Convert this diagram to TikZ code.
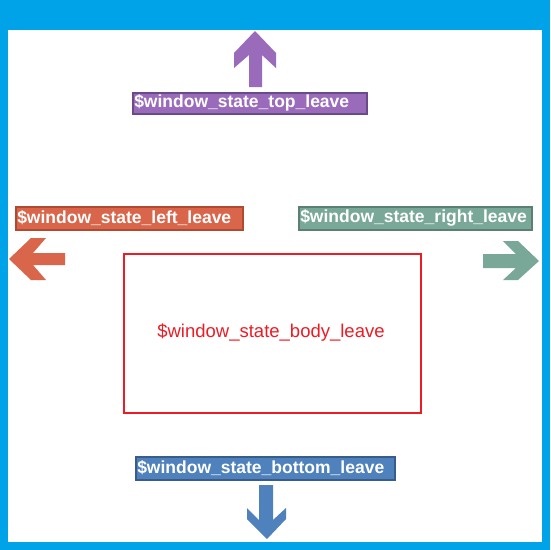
\documentclass[tikz,border=0pt]{standalone}
\usepackage{fontspec}
\setmainfont{Liberation Sans}
\definecolor{frameblue}{HTML}{00A2E8}
\definecolor{topfill}{HTML}{9B6BBB}
\definecolor{topdraw}{HTML}{6B4A8A}
\definecolor{leftfill}{HTML}{D9664A}
\definecolor{leftdraw}{HTML}{B04A30}
\definecolor{rightfill}{HTML}{79A898}
\definecolor{rightdraw}{HTML}{5B7F72}
\definecolor{botfill}{HTML}{4F81BD}
\definecolor{botdraw}{HTML}{385D8A}
\definecolor{bodyred}{HTML}{ED1C24}
\begin{document}
\begin{tikzpicture}[x=1pt,y=-1pt,
  lbl/.style={anchor=north west,draw,line width=1.5pt,inner sep=0pt,
    text=white,font=\fontsize{17.5}{18}\selectfont\bfseries,align=left},
  ]
\useasboundingbox (0,0) rectangle (550,550);
% frame
\fill[frameblue] (0,0) rectangle (550,550);
\fill[white] (8,30) rectangle (542,542);
% body
\node[draw=bodyred,line width=1.5pt,minimum width=297pt,minimum height=159pt,
  anchor=north west,inner sep=0pt] (body) at (123,253) {};
\node[text=bodyred,font=\fontsize{18.5}{19}\selectfont] (bodytxt) at (271,333) {\$window\_state\_body\_leave};
% labels
\node[lbl,fill=topfill,draw=topdraw,minimum width=234pt,minimum height=21pt,text width=231pt] (top) at (132,92) {\$window\_state\_top\_leave};
\node[lbl,fill=leftfill,draw=leftdraw,minimum width=227pt,minimum height=23pt,text width=224pt] (left) at (15,206) {\$window\_state\_left\_leave};
\node[lbl,fill=rightfill,draw=rightdraw,minimum width=233pt,minimum height=23pt,text width=230pt] (right) at (298,206) {\$window\_state\_right\_leave};
\node[lbl,fill=botfill,draw=botdraw,minimum width=259pt,minimum height=23pt,text width=256pt] (bottom) at (135,456) {\$window\_state\_bottom\_leave};
% arrows
\fill[topfill] (255,31) -- (276,53) -- (276,68) -- (262,55) -- (262,87) -- (249,87) -- (249,55) -- (234,68) -- (234,53) -- cycle;
\fill[leftfill] (9,259) -- (31,238) -- (46,238) -- (33,253) -- (65,253) -- (65,265) -- (33,265) -- (46,280) -- (31,280) -- cycle;
\fill[rightfill] (539,261) -- (518,241) -- (503,241) -- (516,254) -- (483,254) -- (483,268) -- (516,268) -- (503,280) -- (518,280) -- cycle;
\fill[botfill] (267,539) -- (286,519) -- (286,508) -- (273,520) -- (273,485) -- (259,485) -- (259,520) -- (247,508) -- (247,519) -- cycle;
\end{tikzpicture}
\end{document}
